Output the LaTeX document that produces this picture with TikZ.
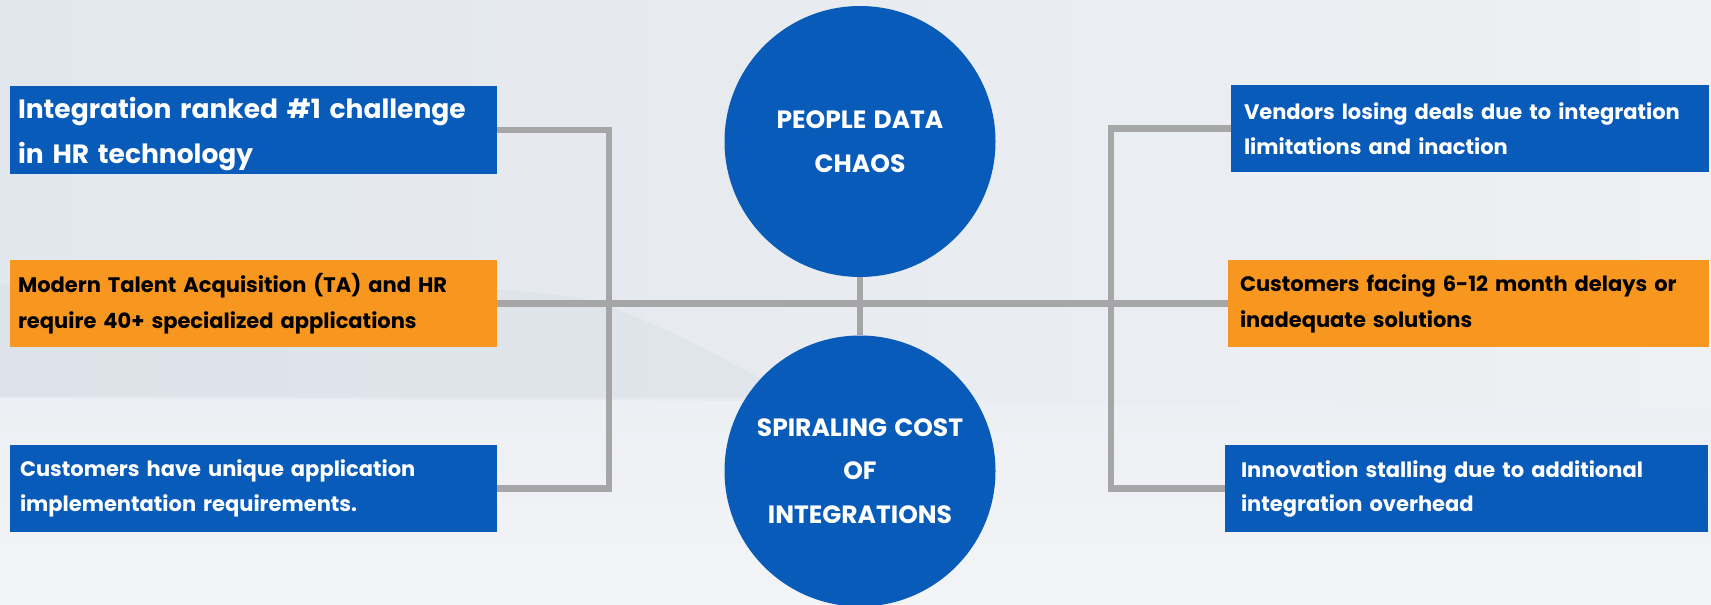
\documentclass[tikz,border=0pt]{standalone}
\usepackage{fontspec}
\setmainfont[WordSpace=1.35]{Poppins}
\hyphenpenalty=10000
\exhyphenpenalty=10000
\definecolor{boxblue}{RGB}{9,91,185}
\definecolor{boxorange}{RGB}{247,151,31}
\definecolor{linegray}{RGB}{166,166,166}
\definecolor{bgleft}{RGB}{226,231,238}
\definecolor{bgright}{RGB}{238,240,243}
\definecolor{snowtop}{RGB}{236,239,243}
\definecolor{snowbot}{RGB}{243,244,246}
\definecolor{hillgray}{RGB}{216,222,231}
\begin{document}
\begin{tikzpicture}[x=1pt,y=-1pt,
  box/.style={rectangle, inner ysep=0pt, align=left, anchor=center},
  bluebox/.style={box, fill=boxblue, text=white},
  orangebox/.style={box, fill=boxorange, text=black},
  bigtext/.style={font=\bfseries\fontsize{26.5}{45}\selectfont},
  smalltext/.style={font=\bfseries\fontsize{21}{#1}\selectfont},
  hub/.style={circle, fill=boxblue, text=white, minimum size=271pt, inner sep=0pt, align=center, font=\bfseries\fontsize{25}{43.5}\selectfont},
  link/.style={draw=linegray, line width=6.5pt}
]
\useasboundingbox (0,0) rectangle (1711,605);
% background
\shade[left color=bgleft, right color=bgright] (0,0) rectangle (1711,605);
\fill[hillgray, opacity=0.45] (0,285) .. controls (250,280) and (480,280) .. (590,300)
  .. controls (680,330) and (740,370) .. (800,398) -- (0,396) -- cycle;
\shade[top color=snowtop, bottom color=snowbot] (0,398) .. controls (600,400) and (1200,402) .. (1711,410) -- (1711,605) -- (0,605) -- cycle;

% hubs
\node[hub] (c1) at (860,141.5) {PEOPLE DATA\\CHAOS};
\node[hub] (c2) at (860,471) {SPIRALING COST\\OF\\INTEGRATIONS};

% left boxes
\node[bluebox, bigtext, inner xsep=8pt, text width=471pt, minimum height=88pt] (b1) at (253.5,130)
  {\rule{0pt}{29pt}Integration ranked \#1 challenge\\in HR technology};
\node[orangebox, smalltext=36, inner xsep=8pt, text width=471pt, minimum height=87pt] (b2) at (253.5,303.5)
  {Modern Talent Acquisition (TA) and HR\\require 40+ specialized applications};
\node[bluebox, smalltext=35, inner xsep=10pt, text width=467pt, minimum height=87pt] (b3) at (253.5,488.5)
  {Customers have unique application\\implementation requirements.};

% right boxes
\node[bluebox, smalltext=35, inner xsep=13pt, text width=452pt, minimum height=87pt] (b4) at (1470,128.5)
  {Vendors losing deals due to integration\\limitations and inaction};
\node[orangebox, smalltext=36, inner xsep=12pt, text width=457pt, minimum height=87pt] (b5) at (1468.5,303.5)
  {Customers facing 6-12 month delays or\\inadequate solutions};
\node[bluebox, smalltext=34, inner xsep=16pt, text width=451pt, minimum height=87pt] (b6) at (1466.5,488.5)
  {Innovation stalling due to additional\\integration overhead};

% connectors
\coordinate (lv1) at (609,130);
\coordinate (lv3) at (609,488.5);
\coordinate (rv4) at (1111,128.5);
\coordinate (rv6) at (1111,488.5);
\draw[link] (b1.east) -- (lv1) -- (lv3) -- (b3.east);
\draw[link] (b2.east) -- (b5.west);
\draw[link] (b4.west) -- (rv4) -- (rv6) -- (b6.west);
\draw[link] (c1.south) -- (c2.north);
\end{tikzpicture}
\end{document}
